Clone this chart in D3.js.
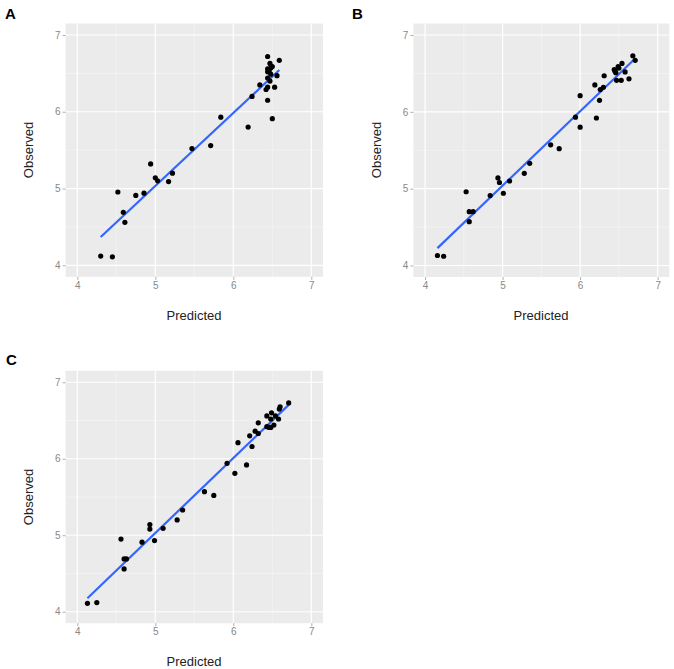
<!DOCTYPE html>
<html>
<head>
<meta charset="utf-8">
<script src="https://cdn.jsdelivr.net/npm/d3@7"></script>
<style>
  html, body { margin: 0; padding: 0; background: #ffffff; }
  svg { display: block; font-family: "Liberation Sans", Arial, sans-serif; }
</style>
</head>
<body>
<svg id="chart" width="674" height="669"></svg>
<script>
// ---------- DATA ----------
const panelLabels = ["A", "B", "C"];
const xTicks = [4, 5, 6, 7];
const yTicks = [4, 5, 6, 7];
const minorTicks = [4.5, 5.5, 6.5];
const axisDomain = [3.85, 7.15];
const xTitle = "Predicted";
const yTitle = "Observed";

const predictedA = [4.30, 4.45, 4.52, 4.59, 4.61, 4.75, 4.855, 4.94, 5.00, 5.03, 5.17, 5.22, 5.47, 5.71, 5.84,
  6.19, 6.24, 6.34, 6.42, 6.44, 6.44, 6.50, 6.53, 6.47, 6.44, 6.44, 6.44, 6.44, 6.47, 6.48, 6.46, 6.56, 6.59, 6.50, 6.48];
const observedA = [4.12, 4.11, 4.955, 4.69, 4.56, 4.91, 4.94, 5.32, 5.14, 5.10, 5.09, 5.20, 5.52, 5.56, 5.93,
  5.80, 6.20, 6.35, 6.29, 6.32, 6.15, 5.91, 6.32, 6.40, 6.44, 6.52, 6.56, 6.72, 6.63, 6.57, 6.53, 6.47, 6.67, 6.59, 6.49];

const predictedB = [4.16, 4.24, 4.53, 4.57, 4.57, 4.62, 4.84, 4.94, 4.96, 5.01, 5.09, 5.28, 5.35, 5.62, 5.73,
  5.94, 6.00, 6.00, 6.21, 6.19, 6.25, 6.26, 6.30, 6.31, 6.44, 6.47, 6.46, 6.49, 6.54, 6.53, 6.58, 6.63, 6.68, 6.71, 6.50, 6.45];
const observedB = [4.13, 4.12, 4.96, 4.57, 4.70, 4.70, 4.91, 5.14, 5.08, 4.94, 5.10, 5.20, 5.33, 5.57, 5.52,
  5.93, 5.80, 6.21, 5.92, 6.35, 6.15, 6.29, 6.32, 6.47, 6.55, 6.41, 6.51, 6.59, 6.63, 6.41, 6.52, 6.43, 6.73, 6.67, 6.57, 6.53];

const predictedC = [4.13, 4.25, 4.56, 4.60, 4.60, 4.63, 4.83, 4.93, 4.93, 4.99, 5.10, 5.28, 5.35, 5.63, 5.75,
  5.92, 6.02, 6.06, 6.17, 6.21, 6.24, 6.28, 6.32, 6.32, 6.43, 6.46, 6.48, 6.49, 6.52, 6.54, 6.58, 6.59, 6.60, 6.71, 6.48, 6.43];
const observedC = [4.11, 4.12, 4.95, 4.56, 4.69, 4.69, 4.91, 5.14, 5.08, 4.93, 5.09, 5.20, 5.33, 5.57, 5.52,
  5.94, 5.81, 6.21, 5.92, 6.30, 6.16, 6.36, 6.47, 6.33, 6.56, 6.41, 6.52, 6.60, 6.44, 6.56, 6.52, 6.65, 6.68, 6.73, 6.41, 6.42];

// ---------- LAYOUT ----------
const panels = [
  { label: panelLabels[0], px: predictedA, py: observedA, xr: [65.6, 323], yr: [276.8, 23.5],
    lab: [5, 19], yt: [33, 150], xt: [194, 320] },
  { label: panelLabels[1], px: predictedB, py: observedB, xr: [413.4, 669.3], yr: [277, 23.5],
    lab: [352, 19], yt: [381, 150], xt: [541, 320] },
  { label: panelLabels[2], px: predictedC, py: observedC, xr: [65.6, 323], yr: [623.2, 370.8],
    lab: [6, 365], yt: [33, 497], xt: [194, 666] }
];

const svg = d3.select("#chart");

function lm(xs, ys) {
  const mx = d3.mean(xs), my = d3.mean(ys);
  let sxy = 0, sxx = 0;
  xs.forEach((x, i) => { sxy += (x - mx) * (ys[i] - my); sxx += (x - mx) * (x - mx); });
  const b = sxy / sxx;
  return { a: my - b * mx, b };
}

panels.forEach(p => {
  const x = d3.scaleLinear().domain(axisDomain).range(p.xr);
  const y = d3.scaleLinear().domain(axisDomain).range(p.yr);
  const g = svg.append("g");

  g.append("rect")
    .attr("x", p.xr[0]).attr("y", p.yr[1])
    .attr("width", p.xr[1] - p.xr[0]).attr("height", p.yr[0] - p.yr[1])
    .attr("fill", "#EBEBEB");

  minorTicks.forEach(t => {
    g.append("line").attr("x1", x(t)).attr("x2", x(t)).attr("y1", p.yr[1]).attr("y2", p.yr[0])
      .attr("stroke", "#F7F7F7").attr("stroke-width", 0.6);
    g.append("line").attr("x1", p.xr[0]).attr("x2", p.xr[1]).attr("y1", y(t)).attr("y2", y(t))
      .attr("stroke", "#F7F7F7").attr("stroke-width", 0.6);
  });
  xTicks.forEach(t => {
    g.append("line").attr("x1", x(t)).attr("x2", x(t)).attr("y1", p.yr[1]).attr("y2", p.yr[0])
      .attr("stroke", "#FFFFFF").attr("stroke-width", 1.2);
  });
  yTicks.forEach(t => {
    g.append("line").attr("x1", p.xr[0]).attr("x2", p.xr[1]).attr("y1", y(t)).attr("y2", y(t))
      .attr("stroke", "#FFFFFF").attr("stroke-width", 1.2);
  });

  const xAxis = d3.axisBottom(x).tickValues(xTicks).tickFormat(d3.format("d")).tickSize(3).tickPadding(2);
  const yAxis = d3.axisLeft(y).tickValues(yTicks).tickFormat(d3.format("d")).tickSize(3).tickPadding(2);
  const gx = g.append("g").attr("transform", `translate(0,${p.yr[0]})`).call(xAxis);
  const gy = g.append("g").attr("transform", `translate(${p.xr[0]},0)`).call(yAxis);
  [gx, gy].forEach(a => {
    a.select(".domain").remove();
    a.selectAll(".tick line").attr("stroke", "#9A9A9A").attr("stroke-width", 0.8);
    a.selectAll(".tick text").attr("fill", "#888888").attr("font-size", 10)
      .attr("font-family", "'Liberation Sans', Arial, sans-serif");
  });

  const fit = lm(p.px, p.py);
  const [x0, x1] = d3.extent(p.px);
  g.append("line")
    .attr("x1", x(x0)).attr("y1", y(fit.a + fit.b * x0))
    .attr("x2", x(x1)).attr("y2", y(fit.a + fit.b * x1))
    .attr("stroke", "#3366FF").attr("stroke-width", 2.2).attr("stroke-linecap", "butt");

  g.selectAll("circle.pt").data(p.px.map((v, i) => [v, p.py[i]])).enter()
    .append("circle").attr("class", "pt")
    .attr("cx", d => x(d[0])).attr("cy", d => y(d[1])).attr("r", 2.6)
    .attr("fill", "#000000");

  g.append("text").attr("x", p.xt[0]).attr("y", p.xt[1]).attr("text-anchor", "middle")
    .attr("font-size", 13).attr("fill", "#222").text(xTitle);
  g.append("text").attr("transform", `translate(${p.yt[0]},${p.yt[1]}) rotate(-90)`)
    .attr("text-anchor", "middle").attr("font-size", 13).attr("fill", "#222").text(yTitle);
  g.append("text").attr("x", p.lab[0]).attr("y", p.lab[1])
    .attr("font-size", 15).attr("font-weight", "bold").attr("fill", "#000").text(p.label);
});
</script>
</body>
</html>
